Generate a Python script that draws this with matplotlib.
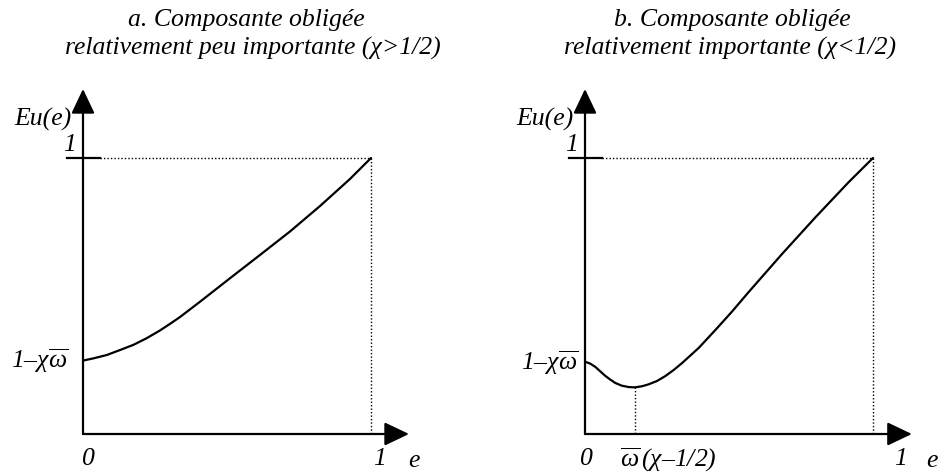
import matplotlib
matplotlib.use('Agg')
import matplotlib.pyplot as plt

# curve a: chi > 1/2 (e in [0,1], Eu in units of 1)
e_a = [0.0, 0.036, 0.082, 0.128, 0.175, 0.221, 0.267, 0.302, 0.337, 0.406,
       0.510, 0.615, 0.719, 0.823, 0.927, 1.0]
eu_a = [0.266, 0.274, 0.286, 0.304, 0.323, 0.347, 0.375, 0.399, 0.424, 0.479,
        0.564, 0.649, 0.734, 0.826, 0.924, 1.0]

# curve b: chi < 1/2
e_b = [0.0, 0.018, 0.036, 0.053, 0.070, 0.088, 0.105, 0.128, 0.152, 0.173,
       0.198, 0.221, 0.250, 0.279, 0.308, 0.337, 0.395, 0.452, 0.510, 0.568,
       0.684, 0.800, 0.916, 1.0]
eu_b = [0.262, 0.255, 0.243, 0.227, 0.211, 0.197, 0.185, 0.175, 0.170, 0.169,
        0.173, 0.180, 0.192, 0.210, 0.232, 0.257, 0.312, 0.376, 0.443, 0.514,
        0.652, 0.785, 0.913, 1.0]
e_min_b = 0.172
eu_min_b = 0.169

titles = [("a. Composante obligée", "relativement peu importante (χ>1/2)"),
          ("b. Composante obligée", "relativement importante (χ<1/2)")]

plt.rcParams['mathtext.fontset'] = 'custom'
plt.rcParams['mathtext.rm'] = 'Liberation Serif:italic'
plt.rcParams['mathtext.it'] = 'Liberation Serif:italic'

W, H = 943, 475
fig = plt.figure(figsize=(W / 100, H / 100), dpi=100)

font = dict(family='Liberation Serif', style='italic', fontsize=18.5, color='black')
dots = (0, (1, 1.5))


def px(x, y):
    return x / W, 1 - y / H


def panel(x0, e, eu, x_end):
    ax = fig.add_axes([0, 0, 1, 1])
    ax.patch.set_visible(False)
    ax.axis('off')
    ax.set_xlim(-x0 / 288, (W - x0) / 288)
    ax.set_ylim(-(H - 434) / 276, 434 / 276)
    ar = dict(arrowstyle='-|>,head_length=0.42,head_width=0.2', color='black',
              lw=1.6, mutation_scale=36, shrinkA=0, shrinkB=0)
    ax.annotate('', xy=(0, 1.25), xytext=(0, 0), arrowprops=ar)
    ax.annotate('', xy=(x_end, 0), xytext=(0, 0), arrowprops=ar)
    ax.plot([-0.056, 0.058], [1, 1], color='black', lw=1.6)
    ax.plot([0.06, 1], [1, 1], color='black', lw=1, ls=dots)
    ax.plot([1, 1], [1, 0], color='black', lw=1, ls=dots)
    ax.plot(e, eu, color='black', lw=1.6, solid_joinstyle='round', solid_capstyle='round')
    return ax


ax_a = panel(83, e_a, eu_a, 1.132)
ax_b = panel(585, e_b, eu_b, 1.135)
ax_b.plot([e_min_b, e_min_b], [eu_min_b, 0], color='black', lw=1, ls=dots)

# titles
fig.text(*px(246, 20), titles[0][0], ha='center', va='center', **font)
fig.text(*px(253, 48), titles[0][1], ha='center', va='center', **font)
fig.text(*px(732, 20), titles[1][0], ha='center', va='center', **font)
fig.text(*px(730, 48), titles[1][1], ha='center', va='center', **font)

# axis labels
low = r'1–$\chi\overline{\omega}$'
for xo in (0, 502):
    fig.text(*px(43 + xo, 119), 'Eu(e)', ha='center', va='center', **font)
    fig.text(*px(70 + xo, 145), '1', ha='center', va='center', **font)
fig.text(*px(40, 361), low, ha='center', va='center', **font)
fig.text(*px(550, 363), low, ha='center', va='center', **font)

fig.text(*px(88, 459), '0', ha='center', va='center', **font)
fig.text(*px(380, 459), '1', ha='center', va='center', **font)
fig.text(*px(414, 461), 'e', ha='center', va='center', **font)

fig.text(*px(586, 459), '0', ha='center', va='center', **font)
fig.text(*px(668, 460), r'$\overline{\omega}\,(\chi$–1/2)', ha='center', va='center', **font)
fig.text(*px(901, 459), '1', ha='center', va='center', **font)
fig.text(*px(932, 461), 'e', ha='center', va='center', **font)

fig.savefig('out.png', dpi=100)
